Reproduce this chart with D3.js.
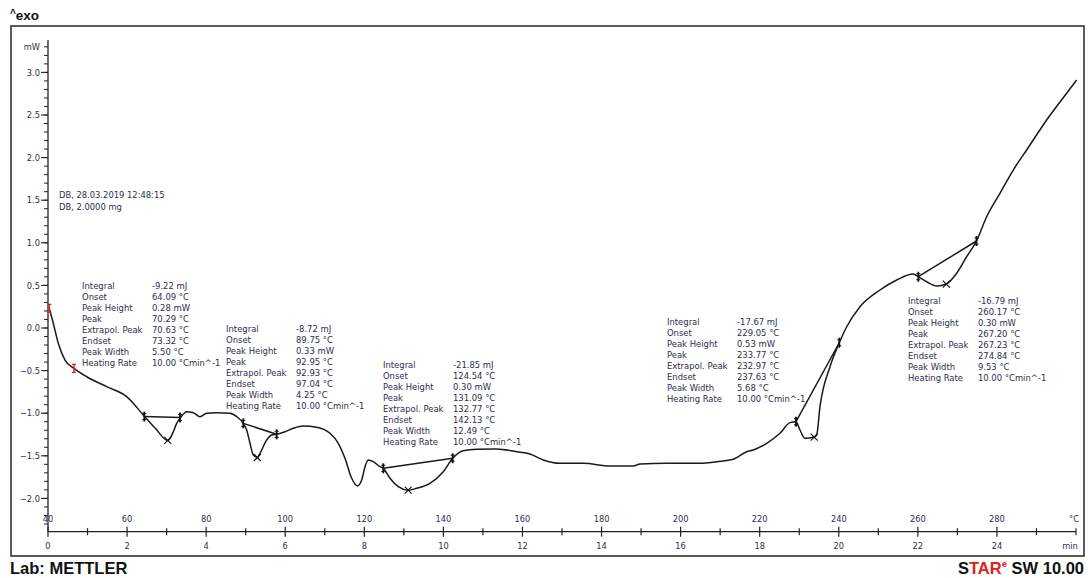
<!DOCTYPE html>
<html><head><meta charset="utf-8">
<script src="https://cdn.jsdelivr.net/npm/d3@7"></script>
<style>
body{margin:0;background:#fff;}
svg{display:block;}
.lbl{font-family:"DejaVu Sans Condensed","DejaVu Sans",sans-serif;fill:#2e2e4e;}
</style></head><body>
<svg id="c" width="1088" height="578"></svg>
<script>
// ---- data ----
// DSC curve: [temperature °C, heat flow mW]
const curvePoints = [
 [40.33,0.231],[41.34,0.055],[42.60,-0.180],[44.30,-0.376],[46.58,-0.473],[49.79,-0.572],
 [54.85,-0.689],[59.90,-0.806],[64.35,-1.035],[67.20,-1.180],[70.29,-1.320],[70.86,-1.295],
 [71.70,-1.217],[72.55,-1.119],[73.38,-1.060],[75.08,-0.982],[76.75,-0.994],[78.44,-1.041],
 [80.14,-1.001],[82.67,-0.994],[86.03,-1.001],[87.72,-1.041],[89.39,-1.119],[90.25,-1.197],
 [91.09,-1.353],[91.92,-1.491],[92.95,-1.520],[93.62,-1.471],[95.31,-1.315],[96.58,-1.256],
 [97.84,-1.248],[99.94,-1.217],[102.04,-1.177],[104.57,-1.150],[107.96,-1.166],[111.32,-1.236],
 [113.42,-1.353],[115.11,-1.529],[116.81,-1.764],[118.22,-1.854],[119.34,-1.784],[120.17,-1.628],
 [121.01,-1.549],[122.27,-1.569],[123.96,-1.628],[124.80,-1.647],[126.49,-1.764],[128.60,-1.863],
 [131.09,-1.904],[133.25,-1.881],[136.61,-1.823],[139.97,-1.687],[142.35,-1.529],[145.03,-1.440],
 [148.42,-1.424],[153.48,-1.420],[158.54,-1.452],[161.90,-1.479],[165.27,-1.549],[169.49,-1.588],
 [175.38,-1.588],[182.13,-1.620],[188.03,-1.620],[189.72,-1.596],[196.47,-1.588],[204.90,-1.588],
 [209.12,-1.569],[213.32,-1.541],[216.71,-1.452],[218.38,-1.432],[221.77,-1.353],[225.13,-1.236],
 [227.66,-1.111],[229.18,-1.100],[230.19,-1.197],[231.45,-1.295],[233.77,-1.280],[234.41,-1.256],
 [235.25,-0.924],[237.78,-0.454],[240.13,-0.173],[242.00,0.015],[245.37,0.250],[250.43,0.446],
 [254.65,0.563],[258.84,0.634],[260.11,0.602],[262.23,0.543],[264.76,0.493],[267.20,0.516],
 [269.82,0.642],[272.35,0.837],[274.83,1.021],[277.40,1.306],[280.77,1.581],[284.13,1.854],
 [287.52,2.089],[292.58,2.441],[297.64,2.755],[300.16,2.911]
];
// integration baselines: [T1, mW1, T2, mW2]
const baselines = [
 [64.35,-1.040,73.38,-1.050],
 [89.39,-1.119,97.84,-1.248],
 [124.80,-1.647,142.35,-1.529],
 [229.18,-1.100,240.13,-0.173],
 [260.11,0.602,274.83,1.021]
];
// peak marks: [T, mW]
const peakMarks = [[70.29,-1.320],[92.95,-1.520],[131.09,-1.904],[233.77,-1.280],[267.20,0.516]];
// red marks at start of curve
const redMarks = [[40.33,0.231],[46.58,-0.473]];

const resultLabels = ["Integral","Onset","Peak Height","Peak","Extrapol. Peak","Endset","Peak Width","Heating Rate"];
const peak1Values = ["-9.22 mJ","64.09 °C","0.28 mW","70.29 °C","70.63 °C","73.32 °C","5.50 °C","10.00 °Cmin^-1"];
const peak2Values = ["-8.72 mJ","89.75 °C","0.33 mW","92.95 °C","92.93 °C","97.04 °C","4.25 °C","10.00 °Cmin^-1"];
const peak3Values = ["-21.85 mJ","124.54 °C","0.30 mW","131.09 °C","132.77 °C","142.13 °C","12.49 °C","10.00 °Cmin^-1"];
const peak4Values = ["-17.67 mJ","229.05 °C","0.53 mW","233.77 °C","232.97 °C","237.63 °C","5.68 °C","10.00 °Cmin^-1"];
const peak5Values = ["-16.79 mJ","260.17 °C","0.30 mW","267.20 °C","267.23 °C","274.84 °C","9.53 °C","10.00 °Cmin^-1"];
// anchor of each result table in data coordinates [T, mW]
const tableAnchors = [[48.60,0.496],[85.02,-0.012],[124.72,-0.434],[196.55,0.074],[257.50,0.320]];

const sampleInfo = ["DB, 28.03.2019 12:48:15","DB, 2.0000 mg"];
const sampleAnchor = [42.78,1.561];

const yMajorTicks = [-2.0,-1.5,-1.0,-0.5,0.0,0.5,1.0,1.5,2.0,2.5,3.0];
const tempTicks = [40,60,80,100,120,140,160,180,200,220,240,260,280];
const timeMajorTicks = [0,2,4,6,8,10,12,14,16,18,20,22,24];
const timeMinorTicks = [1,3,5,7,9,11,13,15,17,19,21,23,25];

// ---- drawing ----
const svg = d3.select("#c");
const x = d3.scaleLinear().domain([0,26]).range([48,1076]);      // minutes
const xT = d3.scaleLinear().domain([40,300]).range([48,1076]);   // °C (10 K/min)
const y = d3.scaleLinear().domain([-2,3]).range([498.4,72.4]);   // mW
const yMin = -2.39, yMax = 3.38;

// frame
svg.append("rect").attr("x",11).attr("y",26).attr("width",1073).attr("height",530)
  .attr("fill","none").attr("stroke","#333").attr("stroke-width",1.6);

// ^exo
const ex = svg.append("text").attr("x",10).attr("y",20)
  .style("font-family","Liberation Sans, Arial, sans-serif").style("font-weight","bold").attr("fill","#111");
ex.append("tspan").attr("font-size",10).attr("dy",-3).text("^");
ex.append("tspan").attr("font-size",13.5).attr("dy",3).text("exo");

// y axis
const yAxisG = svg.append("g");
yAxisG.append("line").attr("x1",x(0)).attr("x2",x(0)).attr("y1",y(yMax)).attr("y2",y(yMin))
  .attr("stroke","#222").attr("stroke-width",1.3);
const minorY = d3.range(-23,34).map(d=>d/10);
yAxisG.selectAll("line.mi").data(minorY).join("line").attr("class","mi")
  .attr("x1",x(0)-4).attr("x2",x(0)).attr("y1",d=>y(d)).attr("y2",d=>y(d))
  .attr("stroke","#222").attr("stroke-width",1);
yAxisG.selectAll("line.ma").data(yMajorTicks).join("line").attr("class","ma")
  .attr("x1",x(0)-7).attr("x2",x(0)).attr("y1",d=>y(d)).attr("y2",d=>y(d))
  .attr("stroke","#222").attr("stroke-width",1.1);
yAxisG.selectAll("text").data(yMajorTicks).join("text").attr("class","lbl")
  .attr("x",x(0)-8).attr("y",d=>y(d)).attr("dy","0.35em").attr("text-anchor","end")
  .attr("font-size",9.2).text(d=>d3.format(".1f")(d));
svg.append("text").attr("class","lbl").attr("x",x(0)-8).attr("y",y(3.3)).attr("dy","0.35em")
  .attr("text-anchor","end").attr("font-size",9.2).text("mW");

// x axis
const axY = y(yMin);
const xg = svg.append("g");
xg.append("line").attr("x1",x(0)).attr("x2",x(26)).attr("y1",axY).attr("y2",axY)
  .attr("stroke","#222").attr("stroke-width",1.3);
xg.selectAll("line.ma").data(timeMajorTicks).join("line").attr("class","ma")
  .attr("x1",d=>x(d)).attr("x2",d=>x(d)).attr("y1",axY-5).attr("y2",axY+5)
  .attr("stroke","#222").attr("stroke-width",1.2);
xg.selectAll("line.mi").data(timeMinorTicks.concat([26])).join("line").attr("class","mi")
  .attr("x1",d=>x(d)).attr("x2",d=>x(d)).attr("y1",axY-3.5).attr("y2",axY+3.5)
  .attr("stroke","#222").attr("stroke-width",1.2);
xg.selectAll("text.t").data(tempTicks).join("text").attr("class","lbl t")
  .attr("x",d=>xT(d)).attr("y",axY-13).attr("dy","0.35em").attr("text-anchor","middle")
  .attr("font-size",9.2).text(d=>d);
xg.selectAll("text.m").data(timeMajorTicks).join("text").attr("class","lbl m")
  .attr("x",d=>x(d)).attr("y",axY+14).attr("dy","0.35em").attr("text-anchor","middle")
  .attr("font-size",9.2).text(d=>d);
svg.append("text").attr("class","lbl").attr("x",x(26)-2).attr("y",axY-13).attr("dy","0.35em")
  .attr("text-anchor","middle").attr("font-size",9.2).text("°C");
svg.append("text").attr("class","lbl").attr("x",x(26)-6).attr("y",axY+14).attr("dy","0.35em")
  .attr("text-anchor","middle").attr("font-size",9.2).text("min");

// curve
const line = d3.line().x(d=>xT(d[0])).y(d=>y(d[1])).curve(d3.curveMonotoneX);
svg.append("path").datum(curvePoints).attr("d",line)
  .attr("fill","none").attr("stroke","#1a1a1a").attr("stroke-width",1.5);

// baselines
svg.selectAll("line.bl").data(baselines).join("line").attr("class","bl")
  .attr("x1",d=>xT(d[0])).attr("y1",d=>y(d[1])).attr("x2",d=>xT(d[2])).attr("y2",d=>y(d[3]))
  .attr("stroke","#1a1a1a").attr("stroke-width",1.5);

// limit marks
const limits = baselines.flatMap(d=>[[d[0],d[1]],[d[2],d[3]]]);
const lm = svg.selectAll("g.lim").data(limits).join("g").attr("class","lim")
  .attr("transform",d=>`translate(${xT(d[0])},${y(d[1])})`);
lm.append("line").attr("x1",0).attr("x2",0).attr("y1",-5).attr("y2",5).attr("stroke","#111").attr("stroke-width",1.8);
lm.append("line").attr("x1",-2).attr("x2",2).attr("y1",-3).attr("y2",-3).attr("stroke","#111").attr("stroke-width",1);
lm.append("line").attr("x1",-2).attr("x2",2).attr("y1",3).attr("y2",3).attr("stroke","#111").attr("stroke-width",1);

// peak x marks
const pm = svg.selectAll("g.pk").data(peakMarks).join("g").attr("class","pk")
  .attr("transform",d=>`translate(${xT(d[0])},${y(d[1])})`);
pm.append("path").attr("d","M-3.5,-3.5L3.5,3.5M-3.5,3.5L3.5,-3.5").attr("stroke","#111").attr("stroke-width",1.1);

// red marks
const rm = svg.selectAll("g.rm").data(redMarks).join("g").attr("class","rm")
  .attr("transform",d=>`translate(${xT(d[0])},${y(d[1])})`);
rm.append("path").attr("d","M0,-4L0,4M-2,-4L2,-4M-2,4L2,4").attr("stroke","#e0201c").attr("stroke-width",1.3).attr("fill","none");

// sample info
svg.selectAll("text.si").data(sampleInfo).join("text").attr("class","lbl si")
  .attr("x",xT(sampleAnchor[0])).attr("y",(d,i)=>y(sampleAnchor[1])+i*11.5).attr("dy","0.35em")
  .attr("font-size",9.3).text(d=>d);

// result tables
const allValues = [peak1Values,peak2Values,peak3Values,peak4Values,peak5Values];
allValues.forEach((vals,k)=>{
  const ax = xT(tableAnchors[k][0]), ay = y(tableAnchors[k][1]);
  const g = svg.append("g");
  g.selectAll("text.l").data(resultLabels).join("text").attr("class","lbl l")
    .attr("x",ax).attr("y",(d,i)=>ay+i*10.95).attr("dy","0.35em").attr("font-size",9.4).text(d=>d);
  g.selectAll("text.v").data(vals).join("text").attr("class","lbl v")
    .attr("x",ax+70).attr("y",(d,i)=>ay+i*10.95).attr("dy","0.35em").attr("font-size",9.4).text(d=>d);
});

// footer
svg.append("text").attr("x",10).attr("y",574)
  .style("font-family","Liberation Sans, Arial, sans-serif").style("font-weight","bold")
  .attr("font-size",16.5).attr("fill","#111").text("Lab: METTLER");
const st = svg.append("text").attr("x",1084).attr("y",574).attr("text-anchor","end")
  .style("font-family","Liberation Sans, Arial, sans-serif").style("font-weight","bold")
  .attr("font-size",16.5).attr("fill","#111");
st.append("tspan").text("S");
st.append("tspan").attr("fill","#e8201c").text("TAR");
st.append("tspan").attr("fill","#e8201c").attr("font-size",9.5).attr("dy",-7).text("e");
st.append("tspan").attr("dy",7).text(" SW 10.00");
</script>
</body></html>
